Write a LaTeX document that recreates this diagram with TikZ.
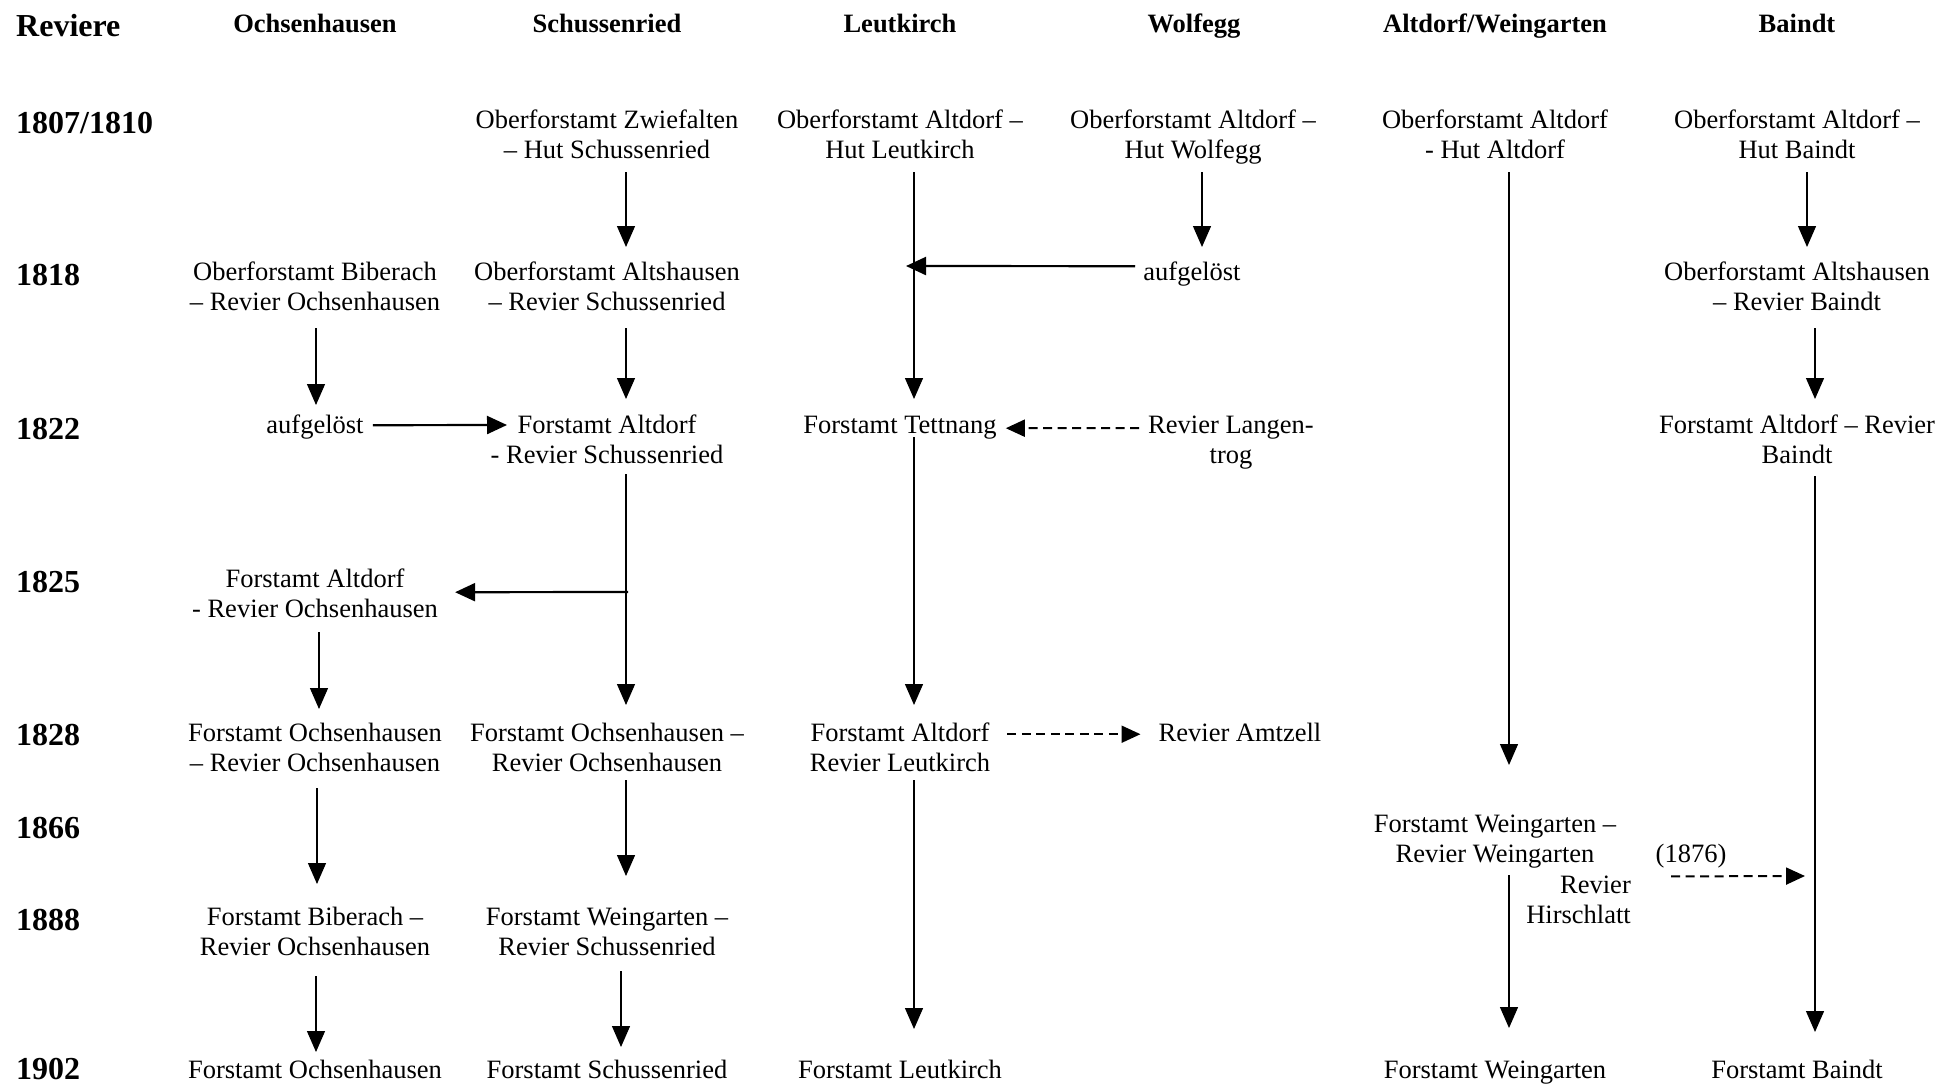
\documentclass[tikz,border=0pt]{standalone}
\usepackage{fontspec}
\setmainfont{Liberation Serif}
\usetikzlibrary{arrows.meta}
\begin{document}
\begin{tikzpicture}[x=1pt,y=-1pt,
  txt/.style={align=center, inner sep=0pt, anchor=north, font=\fontsize{26.5}{30}\selectfont},
  hdr/.style={inner sep=0pt, anchor=base, font=\fontsize{26.5}{30}\selectfont\bfseries},
  yr/.style={inner sep=0pt, anchor=base west, font=\fontsize{32}{36}\selectfont\bfseries},
  arr/.style={-{Triangle[length=21pt,width=18pt]}, line width=1.3pt},
  harr/.style={-{Triangle[length=20pt,width=18pt]}, line width=2.2pt},
  darr/.style={-{Triangle[length=19pt,width=17pt]}, line width=2pt, dash pattern=on 9pt off 5.5pt}]
\useasboundingbox (0,0) rectangle (1942,1085);
% headers
\node[yr] (rev) at (16,36) {Reviere};
\node[hdr] (hO) at (315,32) {Ochsenhausen};
\node[hdr] (hS) at (607,32) {Schussenried};
\node[hdr] (hL) at (900,32) {Leutkirch};
\node[hdr] (hW) at (1194,32) {Wolfegg};
\node[hdr] (hA) at (1495,32) {Altdorf/Weingarten};
\node[hdr] (hB) at (1797,32) {Baindt};
% years
\node[yr] (yA) at (16,133) {1807/1810};
\node[yr] (yB) at (16,285) {1818};
\node[yr] (yC) at (16,439) {1822};
\node[yr] (yD) at (16,592) {1825};
\node[yr] (yE) at (16,745) {1828};
\node[yr] (yF) at (16,838) {1866};
\node[yr] (yG) at (16,930) {1888};
\node[yr] (yH) at (16,1079) {1902};
% Ochsenhausen
\node[txt] (o2) at (315,259) {\strut Oberforstamt Biberach\\\strut – Revier Ochsenhausen};
\node[txt] (o3) at (315,412) {\strut aufgelöst};
\node[txt] (o4) at (315,566) {\strut Forstamt Altdorf\\\strut - Revier Ochsenhausen};
\node[txt] (o5) at (315,720) {\strut Forstamt Ochsenhausen\\\strut – Revier Ochsenhausen};
\node[txt] (o6) at (315,904) {\strut Forstamt Biberach –\\\strut Revier Ochsenhausen};
\node[txt] (o7) at (315,1057) {\strut Forstamt Ochsenhausen};
% Schussenried
\node[txt] (s1) at (607,107) {\strut Oberforstamt Zwiefalten\\\strut – Hut Schussenried};
\node[txt] (s2) at (607,259) {\strut Oberforstamt Altshausen\\\strut – Revier Schussenried};
\node[txt] (s3) at (607,412) {\strut Forstamt Altdorf\\\strut - Revier Schussenried};
\node[txt] (s4) at (607,720) {\strut Forstamt Ochsenhausen –\\\strut Revier Ochsenhausen};
\node[txt] (s5) at (607,904) {\strut Forstamt Weingarten –\\\strut Revier Schussenried};
\node[txt] (s6) at (607,1057) {\strut Forstamt Schussenried};
% Leutkirch
\node[txt] (l1) at (900,107) {\strut Oberforstamt Altdorf –\\\strut Hut Leutkirch};
\node[txt] (l3) at (900,412) {\strut Forstamt Tettnang};
\node[txt] (l5) at (900,720) {\strut Forstamt Altdorf\\\strut Revier Leutkirch};
\node[txt] (l7) at (900,1057) {\strut Forstamt Leutkirch};
% Wolfegg
\node[txt] (w1) at (1193,107) {\strut Oberforstamt Altdorf –\\\strut Hut Wolfegg};
\node[txt] (w2) at (1192,259) {\strut aufgelöst};
\node[txt] (w3) at (1231,412) {\strut Revier Langen-\\\strut trog};
\node[txt] (w5) at (1240,720) {\strut Revier Amtzell};
% Altdorf/Weingarten
\node[txt] (a1) at (1495,107) {\strut Oberforstamt Altdorf\\\strut - Hut Altdorf};
\node[txt] (a6) at (1495,811) {\strut Forstamt Weingarten –\\\strut Revier Weingarten};
\node[txt, align=right, anchor=north east] (hir) at (1631,872) {\strut Revier\\\strut Hirschlatt};
\node[txt] (a8) at (1495,1057) {\strut Forstamt Weingarten};
% Baindt
\node[txt] (b1) at (1797,107) {\strut Oberforstamt Altdorf –\\\strut Hut Baindt};
\node[txt] (b2) at (1797,259) {\strut Oberforstamt Altshausen\\\strut – Revier Baindt};
\node[txt] (b3) at (1797,412) {\strut Forstamt Altdorf – Revier\\\strut Baindt};
\node[txt] (y76) at (1691,841) {\strut (1876)};
\node[txt] (b8) at (1797,1057) {\strut Forstamt Baindt};
% junction coordinates
\coordinate (j1) at (906,266);
\coordinate (j2) at (628,592);
\coordinate (j3) at (1805,876);
% connectors
\draw[arr] ([xshift=19pt,yshift=-5pt]s1.south) -- ([xshift=19pt,yshift=12pt]s2.north);
\draw[arr] ([xshift=9pt,yshift=-5pt]w1.south) -- ([xshift=10pt,yshift=12pt]w2.north);
\draw[arr] ([xshift=10pt,yshift=-5pt]b1.south) -- ([xshift=10pt,yshift=12pt]b2.north);
\draw[arr] ([xshift=14pt,yshift=-5pt]l1.south) -- ([xshift=14pt,yshift=13pt]l3.north);
\draw[harr] ([xshift=-8pt,yshift=8pt]w2.west) -- (j1);
\draw[arr] ([xshift=1pt,yshift=-9pt]o2.south) -- ([xshift=1pt,yshift=7pt]o3.north);
\draw[arr] ([xshift=19pt,yshift=-9pt]s2.south) -- ([xshift=19pt,yshift=13pt]s3.north);
\draw[arr] ([xshift=18pt,yshift=-9pt]b2.south) -- ([xshift=18pt,yshift=13pt]b3.north);
\draw[harr] ([xshift=9pt,yshift=2pt]o3.east) -- ([xshift=-100pt,yshift=-13pt]s3.north);
\draw[darr] ([xshift=-9pt,yshift=-16pt]w3.north west) -- ([xshift=9pt,yshift=-1pt]l3.east);
\draw[arr] ([xshift=19pt,yshift=-2pt]s3.south) -- ([xshift=19pt,yshift=15pt]s4.north);
\draw[harr] (j2) -- ([xshift=17pt,yshift=4pt]o4.east);
\draw[arr] ([xshift=14pt,yshift=5pt]l3.south) -- ([xshift=14pt,yshift=15pt]l5.north);
\draw[arr] ([xshift=4pt,yshift=-6pt]o4.south) -- ([xshift=4pt,yshift=11pt]o5.north);
\draw[darr] ([xshift=17pt,yshift=16pt]l5.east) -- ([xshift=-18pt,yshift=1pt]w5.west);
\draw[arr] ([xshift=14pt,yshift=-5pt]a1.south) -- ([xshift=14pt,yshift=46pt]a6.north);
\draw[arr] ([xshift=2pt,yshift=-8pt]o5.south) -- ([xshift=2pt,yshift=20pt]o6.north);
\draw[arr] ([xshift=19pt]s4.south) -- ([xshift=19pt,yshift=28pt]s5.north);
\draw[arr] ([xshift=14pt]l5.south) -- ([xshift=14pt,yshift=28pt]l7.north);
\draw[arr] ([xshift=18pt,yshift=-4pt]b3.south) -- ([xshift=18pt,yshift=25pt]b8.north);
\draw[darr] ([xshift=-20pt,yshift=-5pt]y76.south) -- (j3);
\draw[arr] ([xshift=14pt,yshift=-4pt]a6.south) -- ([xshift=14pt,yshift=29pt]a8.north);
\draw[arr] ([xshift=1pt,yshift=-12pt]o6.south) -- ([xshift=1pt,yshift=5pt]o7.north);
\draw[arr] ([xshift=14pt,yshift=-7pt]s5.south) -- ([xshift=14pt,yshift=10pt]s6.north);
\end{tikzpicture}
\end{document}
